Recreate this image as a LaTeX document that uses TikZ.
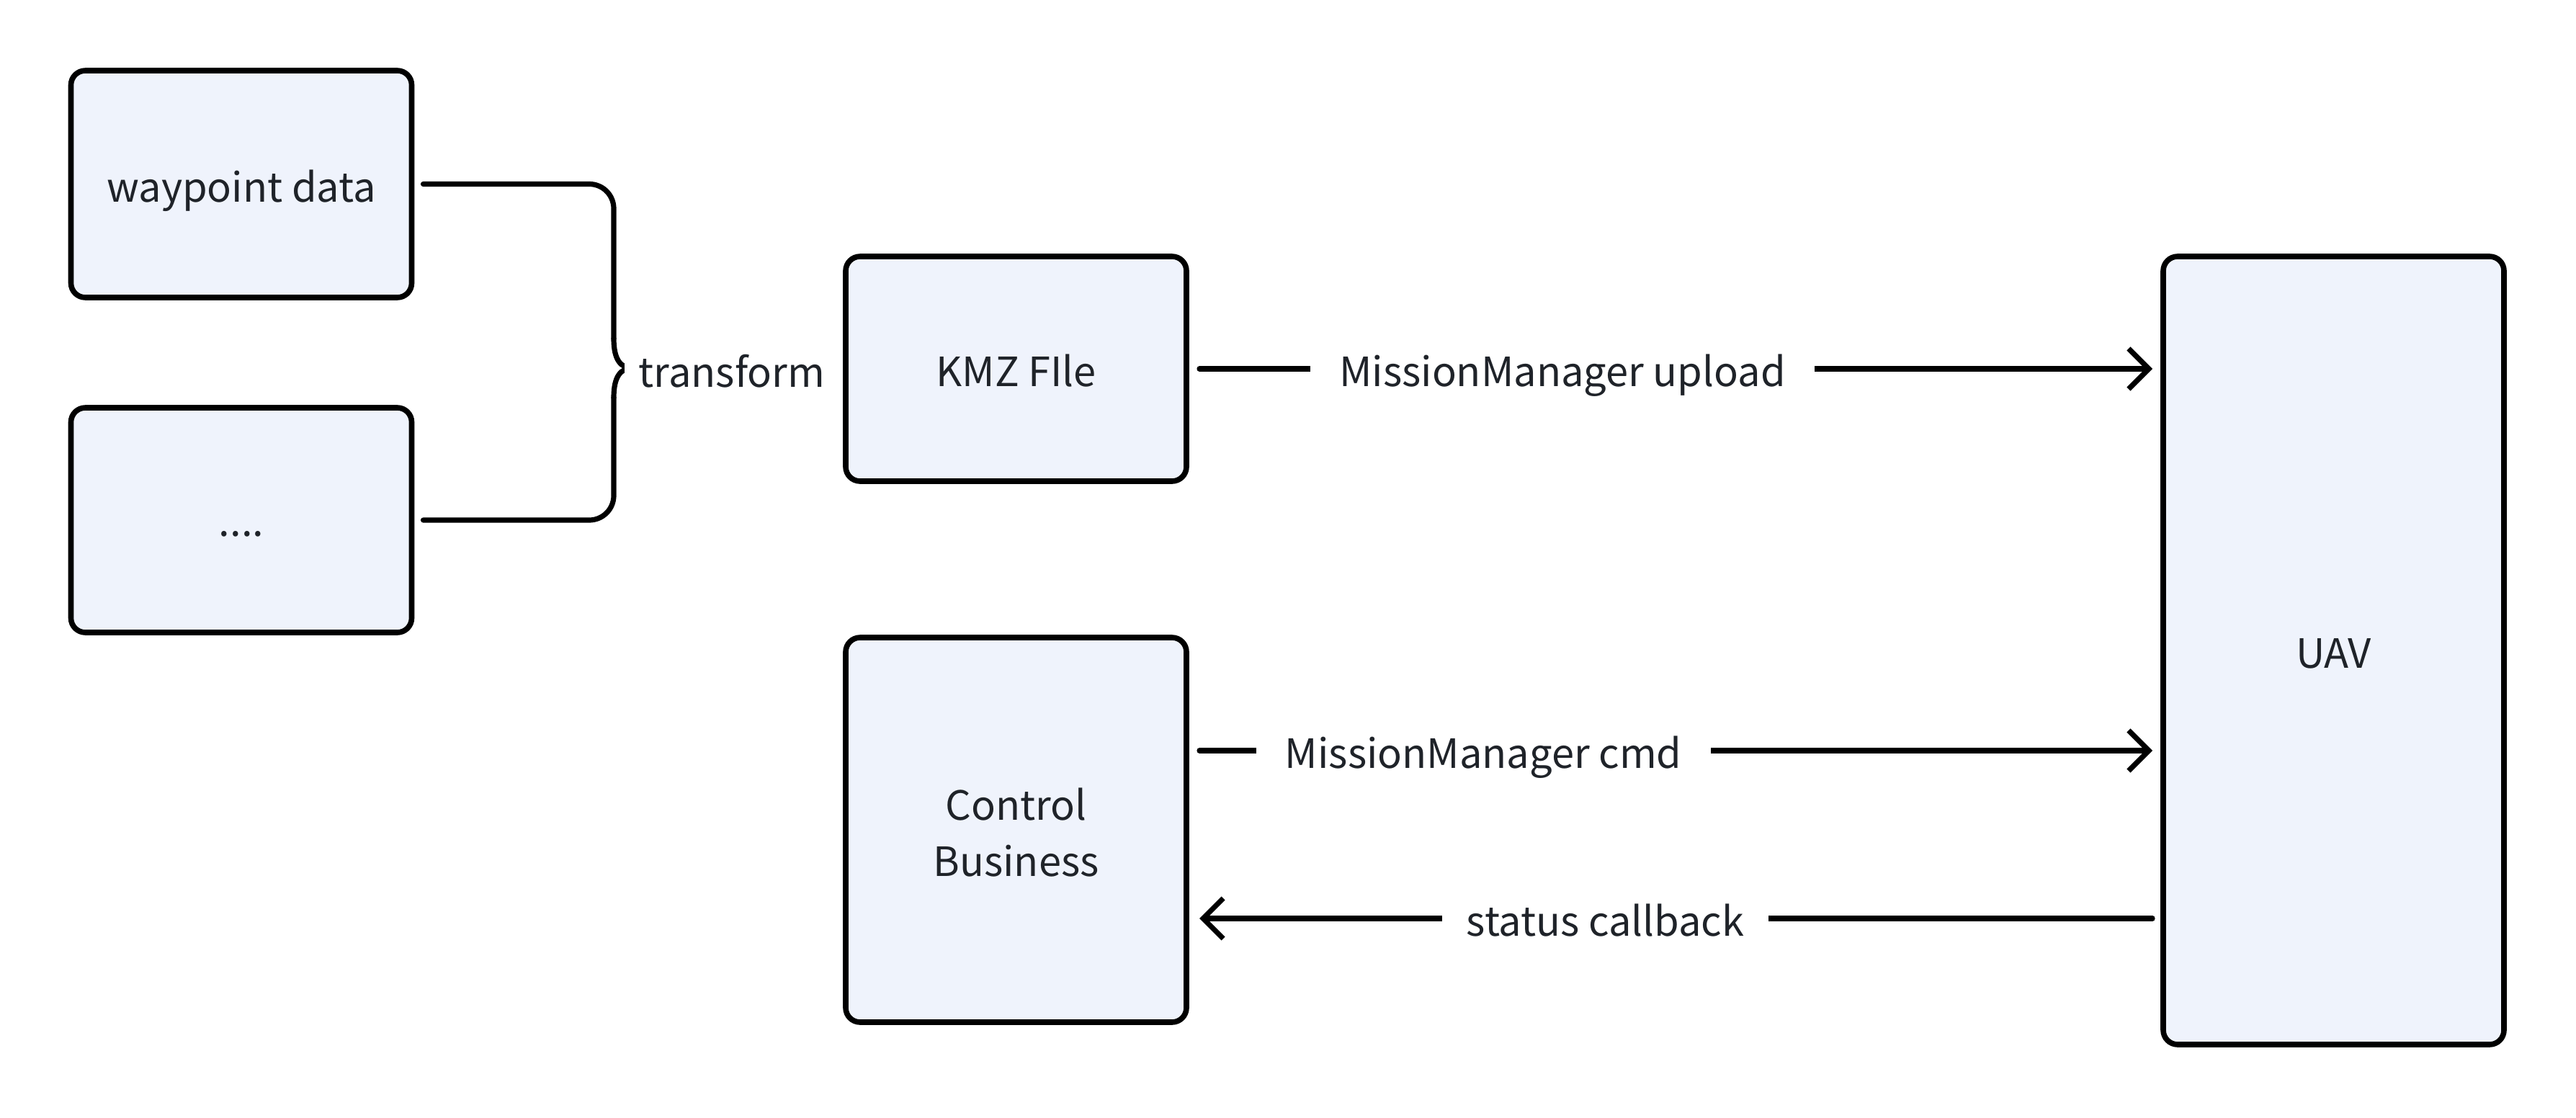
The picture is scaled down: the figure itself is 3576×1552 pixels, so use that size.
\documentclass[tikz,border=0pt]{standalone}
\usepackage{fontspec}
\setmainfont{Noto Sans CJK SC}
\usetikzlibrary{arrows.meta,calc}
\definecolor{boxfill}{RGB}{239,243,252}
\definecolor{txt}{RGB}{31,35,41}
\begin{document}
\begin{tikzpicture}[x=0.25pt,y=-0.25pt,
  box/.style={draw=black, line width=1.9pt, rounded corners=5pt, fill=boxfill,
    minimum width=118.25pt, inner sep=0pt, outer sep=0pt, text=txt,
    font=\fontsize{14}{19.5}\selectfont, align=center},
  one/.style={text height=15pt, text depth=2.6pt},
  conn/.style={draw=black, line width=1.8pt, line cap=round},
  arr/.style={conn, -{Straight Barb[length=7pt,width=14pt,line width=1.8pt]}},
  lbl/.style={fill=white, text=txt, font=\fontsize{14}{19.5}\selectfont, inner xsep=10pt, inner ysep=2pt,
    text height=15pt, text depth=2.6pt}]
\useasboundingbox[fill=white] (0,0) rectangle (3576,1552);
% boxes
\node[box, one, minimum height=78.75pt] (wp) at (335,255.5) {waypoint data};
\node[box, minimum height=78pt, text height=13pt, text depth=2pt] (dots) at (335,722) {....};
\node[box, one, minimum height=78pt] (kmz) at (1410.5,512) {KMZ FIle};
\node[box, minimum height=133.5pt] (cb) at (1410.5,1152) {\rule{0pt}{13pt}Control\\Business};
\node[box, one, minimum height=273.5pt] (uav) at (3239.5,903) {UAV};
% brace
\coordinate (tip) at (878,511);
\draw[conn, rounded corners=8.5pt] ($(wp.east)+(16,0)$) -- (852,255.5) -- (852,470);
\draw[conn] (852,470) .. controls (852,500) and (862,511) .. (tip);
\draw[conn, rounded corners=8.5pt] ($(dots.east)+(16,0)$) -- (852,722) -- (852,552);
\draw[conn] (852,552) .. controls (852,522) and (862,511) .. (tip);
\node[lbl, anchor=west, inner xsep=5pt] (tr) at (866,513) {transform};
% arrows
\draw[arr] ($(kmz.east)+(18,0)$) -- node[lbl, pos=0.381] (up) {MissionManager upload} ($(uav.west|-kmz.east)+(-15,0)$);
\coordinate (cmdS) at ($(cb.east|-0,1042)+(18,0)$);
\coordinate (cmdE) at ($(uav.west|-0,1042)+(-15,0)$);
\draw[arr] (cmdS) -- node[lbl, pos=0.298] (cmd) {MissionManager cmd} (cmdE);
\coordinate (stS) at ($(uav.west|-0,1275)+(-15,0)$);
\coordinate (stE) at ($(cb.east|-0,1275)+(18,0)$);
\draw[arr] (stS) -- node[lbl, pos=0.574, inner xsep=8.5pt] (st) {status callback} (stE);
\end{tikzpicture}
\end{document}
